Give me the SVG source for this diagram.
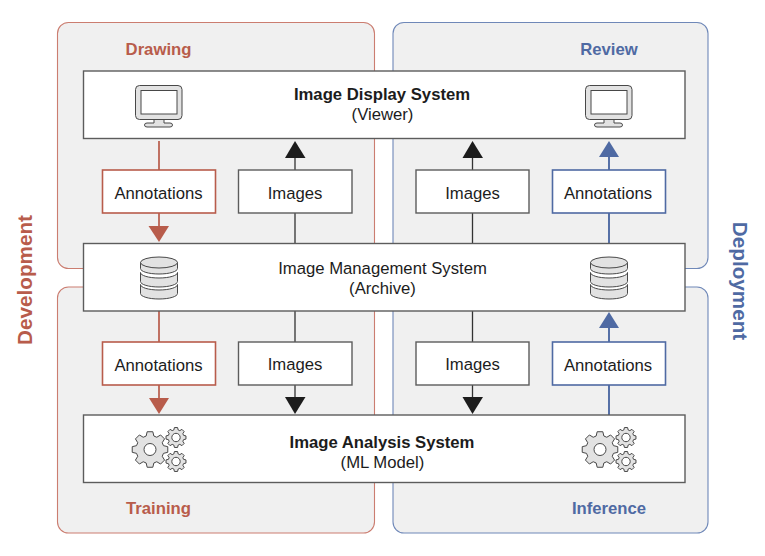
<svg xmlns="http://www.w3.org/2000/svg" xmlns:xlink="http://www.w3.org/1999/xlink" width="765" height="556" viewBox="0 0 765 556">
<style>
text{font-family:"Liberation Sans",Arial,sans-serif;fill:#1c1c1c;font-size:16.7px;text-anchor:middle}
.b{font-weight:700}
.r{fill:#b85c4b;font-weight:700}
.u{fill:#4f6aa3;font-weight:700}
.pr{fill:#f0f0f0;stroke:#cb7d70;stroke-width:1.1}
.pb{fill:#f0f0f0;stroke:#6f88b8;stroke-width:1.1}
.main{fill:#fff;stroke:#5c5c5c;stroke-width:1.4}
.lg{fill:#fff;stroke:#5c5c5c;stroke-width:1.4}
.lr{fill:#fff;stroke:#b85c4b;stroke-width:1.6}
.lu{fill:#fff;stroke:#4f6aa3;stroke-width:1.6}
.cg{stroke:#333;stroke-width:1.3;fill:none}
.cr{stroke:#b85c4b;stroke-width:1.7;fill:none}
.cu{stroke:#4f6aa3;stroke-width:1.9;fill:none}
.ag{fill:#1c1c1c}.ar{fill:#b85c4b}.au{fill:#4f6aa3}
.ic{fill:#e2e2e2;stroke:#484848;stroke-width:1;stroke-linejoin:round}
.wh{fill:#fff;stroke:#484848;stroke-width:1}
</style>
<defs>
<g id="monitor">
<path class="ic" d="M154 118h10v5h6q2.500 0 2.500 2t-2.500 2h-23q-2.500 0-2.500-2t2.500-2h7z"/>
<rect class="ic" x="135.500" y="85.500" width="46.500" height="34" rx="4"/>
<rect class="wh" x="141" y="90.500" width="36" height="23.500"/>
</g>
<g id="db">
<path class="ic" d="M140.500 284.500v9c0 3 8 5.500 18.500 5.500s18.500-2.500 18.500-5.500v-9c0 3-8 5.500-18.500 5.500s-18.500-2.500-18.500-5.500z"/>
<path class="ic" d="M140.500 272.500v9c0 3 8 5.500 18.500 5.500s18.500-2.500 18.500-5.500v-9c0 3-8 5.500-18.500 5.500s-18.500-2.500-18.500-5.500z"/>
<path class="ic" d="M140.500 262.500v6c0 3 8 5.500 18.500 5.500s18.500-2.500 18.500-5.500v-6z"/>
<ellipse class="ic" cx="159" cy="262.500" rx="18.500" ry="5.500"/>
</g>
<path id="gearshape" vector-effect="non-scaling-stroke" class="ic" d="M13.460-3.860L17.780-2.820L17.780 2.820L13.460 3.860L12.240 6.790L14.560 10.580L10.580 14.560L6.790 12.240L3.860 13.460L2.820 17.780L-2.820 17.780L-3.860 13.460L-6.790 12.240L-10.580 14.560L-14.560 10.580L-12.240 6.790L-13.460 3.860L-17.780 2.820L-17.780-2.820L-13.460-3.860L-12.240-6.790L-14.560-10.580L-10.580-14.560L-6.790-12.240L-3.860-13.460L-2.820-17.780L2.820-17.780L3.860-13.460L6.790-12.240L10.580-14.560L14.560-10.580L12.240-6.790Z"/>
<g id="gears">
<use href="#gearshape" transform="translate(150 449.500)"/>
<circle class="wh" cx="150" cy="449.500" r="6"/>
<use href="#gearshape" transform="translate(176 437.500) scale(.56)"/>
<circle class="wh" cx="176" cy="437.500" r="4.200"/>
<use href="#gearshape" transform="translate(176 461.500) scale(.56)"/>
<circle class="wh" cx="176" cy="461.500" r="4.200"/>
</g>
</defs>

<g id="panel-drawing"><rect class="pr" x="57.500" y="22.500" width="317" height="246" rx="11"/><text class="r" x="158.500" y="54.500">Drawing</text></g>
<g id="panel-review"><rect class="pb" x="393" y="22.500" width="315" height="246" rx="11"/><text class="u" x="609" y="54.500">Review</text></g>
<g id="panel-training"><rect class="pr" x="57.500" y="287" width="317" height="246" rx="11"/><text class="r" x="158.500" y="513.500">Training</text></g>
<g id="panel-inference"><rect class="pb" x="393" y="287" width="315" height="246" rx="11"/><text class="u" x="609" y="513.500">Inference</text></g>

<g id="connectors">
<path class="cr" d="M159 141V170M159 213V228"/><path class="ar" d="M148.500 226H169L159 242Z"/>
<path class="cg" d="M295 243V213M295 170V156"/><path class="ag" d="M295 141L305.500 158H285Z"/>
<path class="cg" d="M472.500 243V213M472.500 170V156"/><path class="ag" d="M472.500 141L483 158H462.500Z"/>
<path class="cu" d="M609 243V213M609 170V155"/><path class="au" d="M609 141L619 157H599Z"/>
<path class="cr" d="M159 311V342M159 385V399"/><path class="ar" d="M149 398H169L159 414Z"/>
<path class="cg" d="M295 311V342M295 385V399"/><path class="ag" d="M285 397H305.500L295 414Z"/>
<path class="cg" d="M472.500 311V342M472.500 385V399"/><path class="ag" d="M462.500 397H483L472.500 414Z"/>
<path class="cu" d="M609 415V385M609 342V326"/><path class="au" d="M609 312L619 328H599Z"/>
</g>

<g id="display-system"><rect class="main" x="83.500" y="71" width="601.500" height="67.500"/>
<text class="b" x="382" y="100">Image Display System</text><text x="382.500" y="120">(Viewer)</text>
<use href="#monitor"/><use href="#monitor" x="450"/></g>
<g id="management-system"><rect class="main" x="83.500" y="243.500" width="601.500" height="67.500"/>
<text x="382.500" y="274">Image Management System</text><text x="382.500" y="294">(Archive)</text>
<use href="#db"/><use href="#db" x="450"/></g>
<g id="analysis-system"><rect class="main" x="83.500" y="415" width="601.500" height="67.500"/>
<text class="b" x="382" y="448">Image Analysis System</text><text x="382.500" y="468">(ML Model)</text>
<use href="#gears"/><use href="#gears" x="450"/></g>

<g id="annotations-drawing"><rect class="lr" x="102.500" y="170" width="113" height="43"/><text x="158.500" y="199">Annotations</text></g>
<g id="images-display-left"><rect class="lg" x="238.500" y="170" width="113.500" height="43"/><text x="295" y="199">Images</text></g>
<g id="images-display-right"><rect class="lg" x="416" y="170" width="113" height="43"/><text x="472.500" y="199">Images</text></g>
<g id="annotations-review"><rect class="lu" x="552.500" y="170" width="113" height="43"/><text x="608" y="199">Annotations</text></g>
<g id="annotations-training"><rect class="lr" x="102.500" y="342" width="113" height="43"/><text x="158.500" y="371">Annotations</text></g>
<g id="images-analysis-left"><rect class="lg" x="238.500" y="342" width="113.500" height="43"/><text x="295" y="370">Images</text></g>
<g id="images-analysis-right"><rect class="lg" x="416" y="342" width="113" height="43"/><text x="472.500" y="370">Images</text></g>
<g id="annotations-inference"><rect class="lu" x="552.500" y="342" width="113" height="43"/><text x="608" y="371">Annotations</text></g>

<text class="r" style="font-size:20.700px" transform="translate(32 280) rotate(-90)">Development</text>
<text class="u" style="font-size:20.700px" transform="translate(732.500 281) rotate(90)">Deployment</text>
</svg>
